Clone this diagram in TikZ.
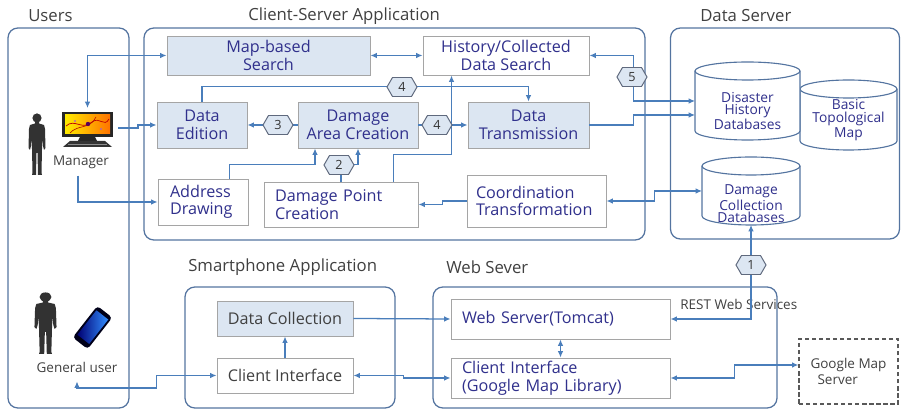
\documentclass[tikz,border=0pt]{standalone}
\usepackage{fontspec}
\setmainfont{Open Sans}
\usetikzlibrary{arrows.meta,calc,shapes.symbols}

% one pixel of the drawing grid
\newcommand*\pxu{0.025cm}

\definecolor{frameblue}{RGB}{84,116,160}
\definecolor{linkblue}{RGB}{74,126,187}
\definecolor{boxgray}{RGB}{165,165,165}
\definecolor{boxfill}{RGB}{220,230,242}
\definecolor{navytext}{RGB}{48,48,140}
\definecolor{titlegray}{RGB}{64,64,64}
\definecolor{hexedge}{RGB}{95,105,125}
\definecolor{silhouette}{RGB}{50,50,50}

% database cylinder: centre x, centre y, width, height (grid units)
\newcommand\dbcyl[4]{%
  \filldraw[draw=frameblue, fill=white, line width=0.8pt]
    ({#1-#3/2},{#2-#4/2+9}) -- ({#1-#3/2},{#2+#4/2-9})
    arc[start angle=180, end angle=360, x radius={#3/2*\pxu}, y radius={9*\pxu}]
    -- ({#1+#3/2},{#2-#4/2+9})
    arc[start angle=0, end angle=180, x radius={#3/2*\pxu}, y radius={9*\pxu}] -- cycle;
  \draw[draw=frameblue, line width=0.8pt] ({#1-#3/2},{#2-#4/2+9})
    arc[start angle=180, end angle=360, x radius={#3/2*\pxu}, y radius={9*\pxu}];
}

% standing person silhouette, top of head at the scope origin
\newcommand\personshape{%
  \fill[silhouette] (0,5) circle[radius=4.6*\pxu];
  \fill[silhouette] (-2,9) -- (2,9) -- (2,10.5) -- (7,12) -- (8,16) -- (8.5,35)
    -- (7,37) -- (6,33) -- (5.5,24) -- (5,36) -- (4.5,60) -- (5,62) -- (1,62)
    -- (0.5,40) -- (-0.5,40) -- (-1,62) -- (-5,62) -- (-4.5,60) -- (-5,36)
    -- (-5.5,24) -- (-6,33) -- (-7,37) -- (-8.5,35) -- (-8,16) -- (-7,12)
    -- (-2,10.5) -- cycle;
}

\begin{document}
\begin{tikzpicture}[x=0.025cm, y=-0.025cm,
  font=\fontsize{11.5}{12.5}\selectfont,
  container/.style={draw=frameblue, line width=0.9pt, rounded corners=7pt, inner sep=0},
  title/.style={text=titlegray, font=\fontsize{11.9}{13}\selectfont, anchor=west, inner sep=0},
  whitebox/.style={draw=boxgray, line width=0.7pt, fill=white, text=navytext, align=center, inner sep=0},
  bluebox/.style={whitebox, fill=boxfill},
  graybox/.style={whitebox, text=titlegray},
  hexlabel/.style={signal, signal to=east and west, signal pointer angle=120,
    draw=hexedge, fill=boxfill, line width=0.7pt, minimum width=30*\pxu,
    minimum height=19*\pxu, inner sep=0, font=\fontsize{9}{10}\selectfont, text=black!80},
  link/.style={draw=linkblue, line width=0.9pt, >={Latex[length=4.5pt,width=4pt]}},
  dbtext/.style={text=navytext, align=center, font=\fontsize{9.8}{9}\selectfont, inner sep=0},
  caption/.style={text=titlegray, font=\fontsize{9.6}{11}\selectfont, inner sep=0},
  anchorbox/.style={inner sep=0, outer sep=0},
]
\useasboundingbox (0,0) rectangle (902,411);

% ---------- groups ----------
\node[container, minimum width=121*\pxu, minimum height=380*\pxu] (users) at (68.5,218) {};
\node[container, minimum width=501*\pxu, minimum height=212*\pxu] (csapp) at (394.5,134) {};
\node[container, minimum width=229*\pxu, minimum height=211*\pxu] (dserv) at (785,133.5) {};
\node[container, minimum width=210*\pxu, minimum height=121*\pxu] (sphone) at (290,347.5) {};
\node[container, minimum width=344*\pxu, minimum height=121*\pxu] (wserv) at (605,347.5) {};

\node[title] (tusers) at (28,16) {Users};
\node[title] (tcs) at (248,16) {Client-Server Application};
\node[title] (tds) at (700,16) {Data Server};
\node[title] (tsp) at (188,267) {Smartphone Application};
\node[title] (tws) at (446,267) {Web Sever};

% ---------- users ----------
\begin{scope}[shift={(37,113)}]
  \personshape
\end{scope}
\node[anchorbox, minimum width=51*\pxu, minimum height=35*\pxu] (monitor) at (87.5,129.5) {};
\fill[black!85] (62,112) rectangle (113,137);
\shade[left color=yellow!85!orange, right color=orange!90!red] (65,115) rectangle (110,134);
\draw[red!75!black, line width=0.5pt] (66,126) .. controls (75,118) and (82,131) .. (92,122) .. controls (100,116) and (104,128) .. (109,119);
\draw[red!70!black, line width=0.4pt] (70,133) .. controls (78,124) and (90,130) .. (96,117);
\fill[violet!70!black] (88,124) circle[radius=2.2*\pxu];
\fill[violet!60] (75,121) circle[radius=1.2*\pxu] (101,129) circle[radius=1.2*\pxu];
\fill[black!85] (80,137) -- (95,137) -- (97,141) -- (78,141) -- cycle;
\fill[black!80] (70,141) -- (105,141) -- (112,147) -- (63,147) -- cycle;
\draw[black!45, line width=0.4pt] (68,144) -- (107,144);
\node[caption] (mgr) at (81,162) {Manager};

\begin{scope}[shift={(45.5,292)}, xscale=1.3]
  \personshape
\end{scope}
\begin{scope}[shift={(92.5,327.5)}, rotate=52]
  \fill[rounded corners=2.5pt, black!90!blue] (-20,-9.5) rectangle (20,9.5);
  \shade[left color=blue!45!black, right color=blue!55!cyan!80!white] (-15,-7.5) rectangle (16,7.5);
\end{scope}
\node[caption] (gu) at (77,367) {General user};

% ---------- client-server application ----------
\node[bluebox, minimum width=203*\pxu, minimum height=39*\pxu] (mapsearch) at (268.5,55.5) {Map-based\\Search};
\node[whitebox, minimum width=166*\pxu, minimum height=39*\pxu] (history) at (506,55.5) {History/Collected\\Data Search};
\node[bluebox, minimum width=90*\pxu, minimum height=46*\pxu] (edit) at (202,125) {Data\\Edition};
\node[bluebox, minimum width=120*\pxu, minimum height=46*\pxu] (area) at (358,125) {Damage\\Area Creation};
\node[bluebox, minimum width=121*\pxu, minimum height=46*\pxu] (trans) at (528.5,125) {Data\\Transmission};
\node[whitebox, align=left, inner xsep=12*\pxu, text width=66*\pxu, minimum height=46*\pxu] (address) at (203,202) {Address\\Drawing};
\node[whitebox, align=left, inner xsep=11*\pxu, text width=132*\pxu, minimum height=45*\pxu] (point) at (341,204.5) {Damage Point\\Creation};
\node[whitebox, align=left, inner xsep=9*\pxu, text width=121*\pxu, minimum height=52*\pxu] (coord) at (536.5,201) {Coordination\\Transformation};

% ---------- data server ----------
\dbcyl{848.5}{115}{97}{70}
\node[anchorbox, minimum width=97*\pxu, minimum height=70*\pxu] (btopo) at (848.5,115) {};
\node[dbtext] (btopotxt) at (848.5,120) {Basic\\Topological\\Map};
\dbcyl{747.5}{101}{105}{78}
\node[anchorbox, minimum width=105*\pxu, minimum height=78*\pxu] (dhist) at (747.5,101) {};
\node[dbtext] (dhisttxt) at (747.5,111) {Disaster\\History\\Databases};
\dbcyl{751}{191}{98}{68}
\node[anchorbox, minimum width=98*\pxu, minimum height=68*\pxu] (dcoll) at (751,191) {};
\node[dbtext] (dcolltxt) at (751,204) {Damage\\Collection\\Databases};

% ---------- smartphone application ----------
\node[bluebox, text=titlegray, minimum width=136*\pxu, minimum height=35*\pxu] (dcol) at (285,318.5) {Data Collection};
\node[graybox, minimum width=136*\pxu, minimum height=35*\pxu] (sci) at (285,375.5) {Client Interface};

% ---------- web server ----------
\node[whitebox, align=left, inner xsep=11*\pxu, text width=197*\pxu, minimum height=40*\pxu] (tomcat) at (560.5,319) {Web Server(Tomcat)};
\node[whitebox, align=left, inner xsep=11*\pxu, text width=197*\pxu, minimum height=40*\pxu] (gml) at (560.5,378) {Client Interface\\(Google Map Library)};
\node[caption, anchor=west] (rest) at (680,304) {REST Web Services};
\node[draw=black!65, dashed, dash pattern=on 3pt off 2pt, line width=0.9pt, caption, align=left,
      minimum width=99*\pxu, minimum height=65*\pxu] (gmap) at (848.5,371.5) {Google Map\\\hspace*{5pt}Server};

% ---------- connectors ----------
\draw[link,<->] ($(monitor.north)+(0,-4)$) |- (mapsearch.west);
\draw[link,->] ($(monitor.east)+(5,-1.5)$) -- ++(20,0) |- (edit.west);
\draw[link,->] ($(mgr.south)+(-3,7)$) |- (address.west);
\draw[link,<->] (mapsearch.east) -- (history.west);
\draw[link,->] (area.west) -- (edit.east);
\draw[link,->] (area.east) -- (trans.west);
\draw[link,->] (edit.north) -- ++(0,-15) -| (trans.north);
\draw[link,->] ($(address.north east)+(-19,0)$) -- ++(0,-14) -| ($(area.south)+(-43,0)$);
\draw[link,->] (point.north) -- ++(0,-17) -| (area.south);
\draw[link,->] ($(point.north east)+(-25,0)$) -- ++(0,-27) -| ($(history.south west)+(29,0)$);
\draw[link,->] (coord.west) -- ++(-24,0) |- (point.east);
\draw[link,<->] (coord.east) -- ++(48,0) |- (dcoll.west);
\draw[link,->] (trans.east) -- ++(44,0) |- ($(dhist.west)+(0,14)$);
\draw[link,<->] (history.east) -- ++(44,0) |- (dhist.west);
\draw[link,<->] (dcoll.south) |- (tomcat.east);
\draw[link,<->] (tomcat.south) -- (gml.north);
\draw[link,<->] (gml.east) -- ++(64,0) |- ($(gmap.west)+(0,-6.5)$);
\draw[link,->] (dcol.east) -- (tomcat.west);
\draw[link,<->] (sci.east) -- ++(50,0) |- (gml.west);
\draw[link,<->] ($(gu.south)+(0,9)$) |- ($(sci.west)+(-60,12.5)$) |- (sci.west);
\draw[link,->] (sci.north) -- (dcol.south);

% ---------- step numbers ----------
\node[hexlabel] (hexone) at (751,265) {1};
\node[hexlabel] (hextwo) at (339,165) {2};
\node[hexlabel] (hexthree) at (278,125) {3};
\node[hexlabel] (hexfourtop) at (402,87) {4};
\node[hexlabel] (hexfourmid) at (437,125) {4};
\node[hexlabel] (hexfive) at (632,77) {5};

\end{tikzpicture}
\end{document}
